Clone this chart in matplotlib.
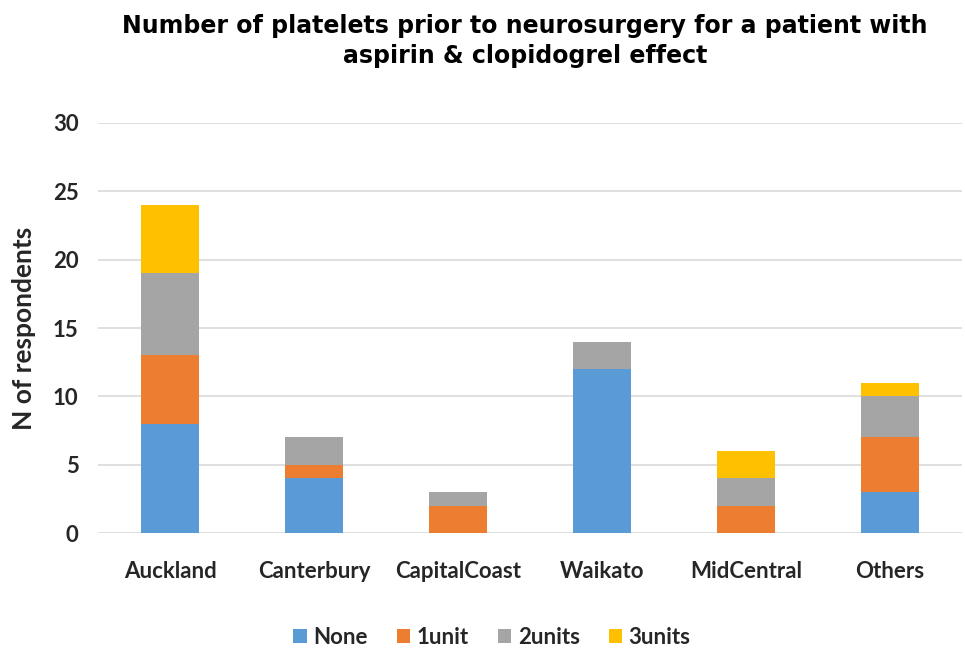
import numpy as np
import matplotlib
matplotlib.use("Agg")
import matplotlib.pyplot as plt

# data
regions = ["Auckland", "Canterbury", "CapitalCoast", "Waikato", "MidCentral", "Others"]
none_vals  = [8, 4, 0, 12, 0, 3]
unit1_vals = [5, 1, 2, 0, 2, 4]
unit2_vals = [6, 2, 1, 2, 2, 3]
unit3_vals = [5, 0, 0, 0, 2, 1]
series_labels = ["None", "1unit", "2units", "3units"]
colors = ["#5B9BD5", "#ED7D31", "#A5A5A5", "#FFC000"]

fig = plt.figure(figsize=(9.65, 6.49), dpi=100)
ax = fig.add_axes([0.1016, 0.1787, 0.895, 0.6318])

x = np.arange(len(regions))
bottom = np.zeros(len(regions))
for vals, lab, col in zip([none_vals, unit1_vals, unit2_vals, unit3_vals], series_labels, colors):
    ax.bar(x, vals, width=0.4, bottom=bottom, color=col, label=lab, zorder=3)
    bottom += np.array(vals)

ax.set_xlim(-0.5, len(regions) - 0.5)
ax.set_ylim(0, 30)
ax.set_yticks(range(0, 31, 5))
ax.grid(axis="y", color="#d9d9d9", linewidth=1.2, zorder=0)
for s in ax.spines.values():
    s.set_visible(False)
ax.tick_params(length=0, labelsize=16, colors="#262626")
ax.tick_params(axis="x", pad=20)
ax.tick_params(axis="y", pad=14)
ax.set_xticks(x)
ax.set_xticklabels(regions)
for t in ax.get_xticklabels() + ax.get_yticklabels():
    t.set_family("Lato")
    t.set_fontweight("bold")

ax.set_ylabel("N of respondents", fontsize=19, fontweight="bold", family="Lato",
              color="#262626", labelpad=12)

fig.suptitle("Number of platelets prior to neurosurgery for a patient with\naspirin & clopidogrel effect",
             fontsize=17, fontweight="bold", family="DejaVu Sans", x=0.544, y=0.978,
             linespacing=1.3)

ax.legend(loc="upper center", bbox_to_anchor=(0.456, -0.18), ncol=4, frameon=False,
          prop={"family": "Lato", "size": 16, "weight": "bold"},
          handlelength=0.6, handleheight=0.6, handletextpad=0.3, columnspacing=1.3,
          labelcolor="#262626")

fig.savefig("out.png", dpi=100)
